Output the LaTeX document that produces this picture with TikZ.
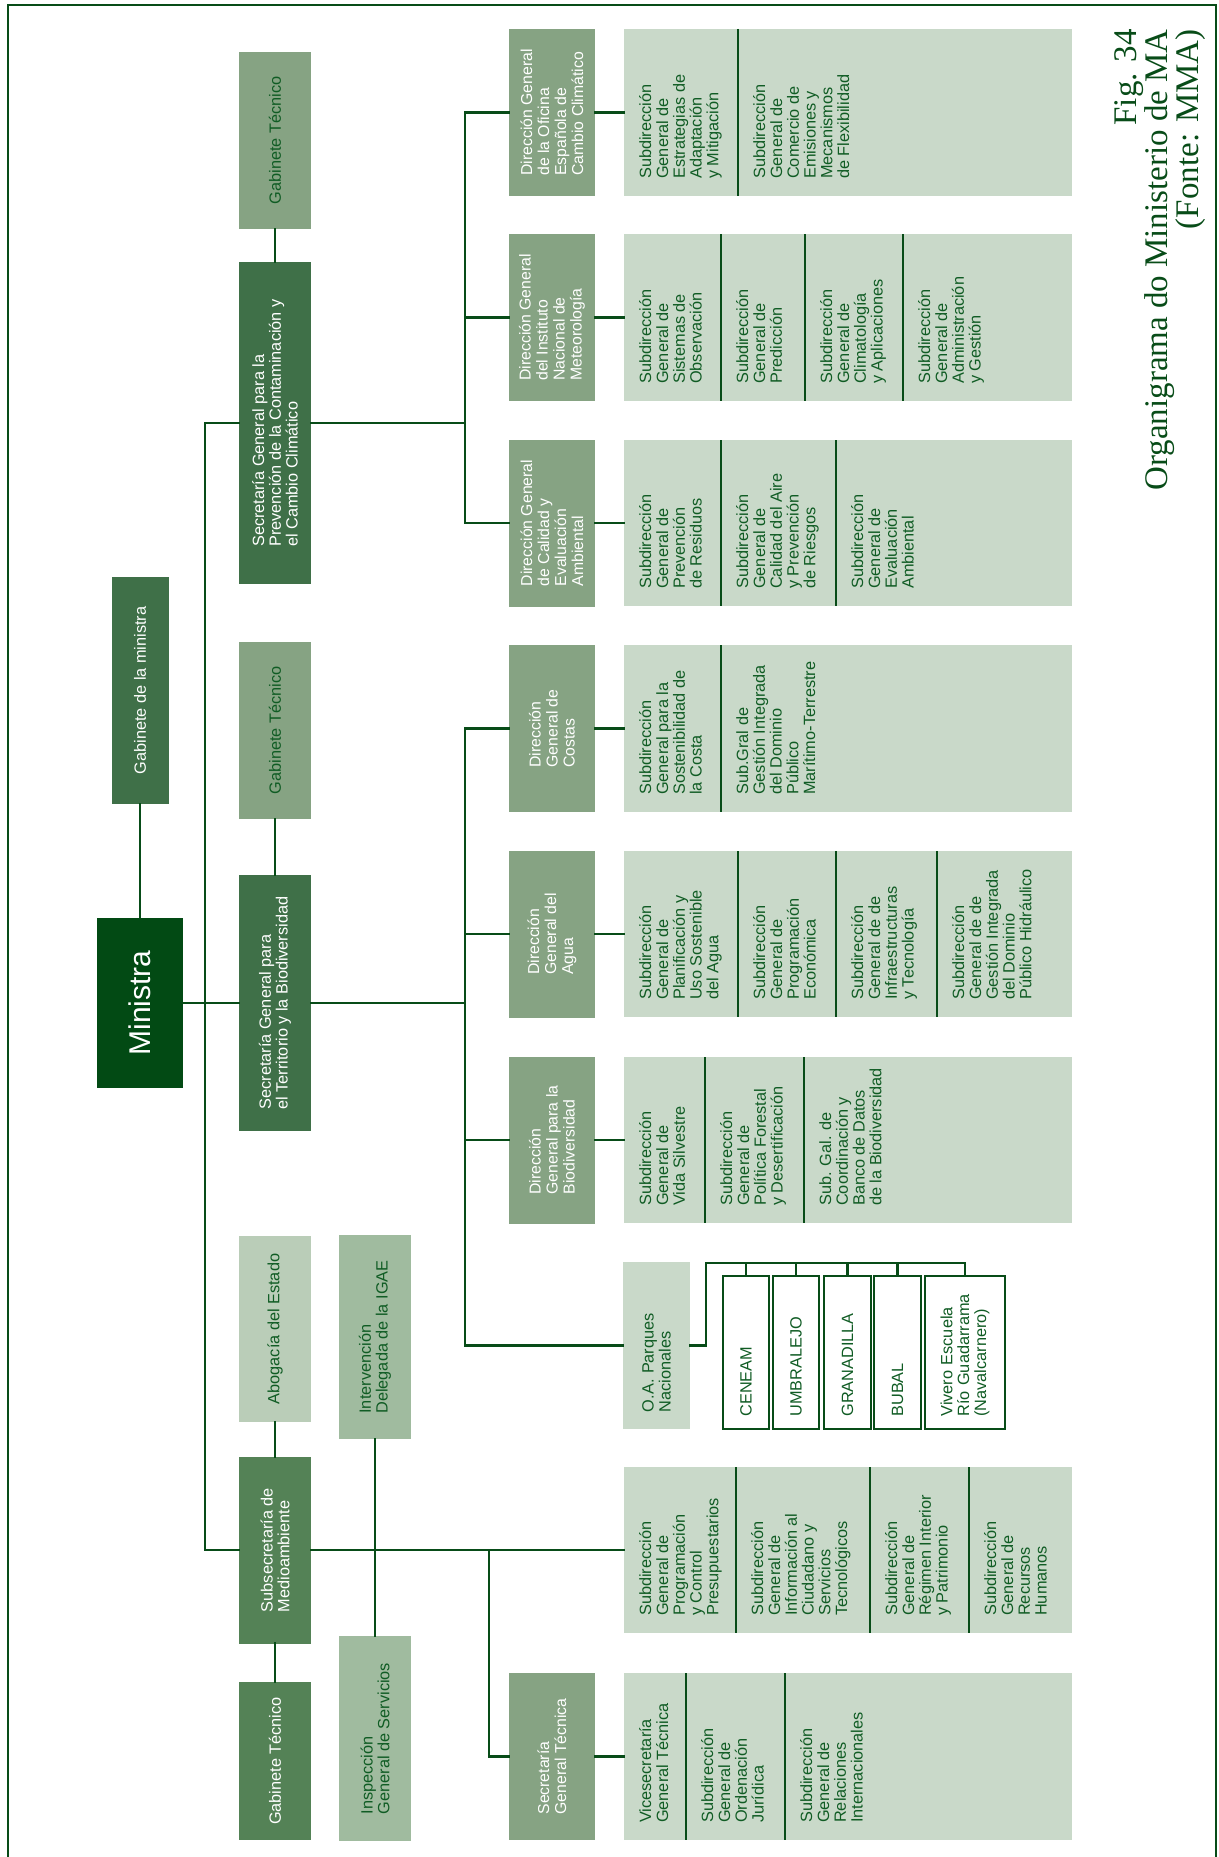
\documentclass[tikz,border=0pt]{standalone}
\usepackage{fontspec}
\setmainfont{Liberation Sans}
\newfontfamily\titlefont{Liberation Serif}
\usepackage{xcolor}
\definecolor{lineCol}{RGB}{8,76,24}
\definecolor{minCol}{RGB}{2,74,20}
\definecolor{secCol}{RGB}{63,112,72}
\definecolor{subsCol}{RGB}{84,130,86}
\definecolor{midCol}{RGB}{134,163,131}
\definecolor{aboCol}{RGB}{186,205,184}
\definecolor{ctrlCol}{RGB}{160,187,159}
\definecolor{cellCol}{RGB}{201,217,201}
\definecolor{txtCol}{RGB}{16,92,36}
\usepackage{tikz}
\usetikzlibrary{fit}
\newcommand{\boxfont}{\fontsize{16.3}{16.8}\selectfont}
\newcommand{\dirfont}{\fontsize{15.8}{17}\selectfont}
\tikzstyle{box} = [rectangle, rotate=90, inner sep=0pt, outer sep=0pt, align=left, font=\boxfont]
\tikzstyle{chief} = [box, fill=minCol, text=white, font=\fontsize{30}{32}\selectfont]
\tikzstyle{secr} = [box, fill=secCol, text=white]
\tikzstyle{subs} = [box, fill=subsCol, text=white]
\tikzstyle{gabmid} = [box, fill=midCol, text=txtCol]
\tikzstyle{dir} = [box, fill=midCol, text=white, font=\dirfont]
\tikzstyle{abo} = [box, fill=aboCol, text=txtCol]
\tikzstyle{ctrl} = [box, fill=ctrlCol, text=txtCol]
\tikzstyle{cellbox} = [box, fill=cellCol, text=txtCol, text width=133pt]
\tikzstyle{unit} = [box, draw=lineCol, line width=1.4pt, fill=white, text=txtCol, text width=128pt]
\tikzstyle{row} = [rectangle, fill=cellCol, inner sep=0pt, outer sep=0pt]
\tikzstyle{celltext} = [rotate=90, anchor=north west, align=left, inner sep=0pt, font=\boxfont, text=txtCol]
\tikzstyle{link} = [draw=lineCol, line width=2.7pt, line cap=rect]
\tikzstyle{divider} = [draw=lineCol, line width=1.4pt]
\tikzset{dims/.style 2 args={minimum width=#1pt, minimum height=#2pt}}

\begin{document}
\begin{tikzpicture}[x=1pt, y=-1pt]
\useasboundingbox (0,0) rectangle (1218,1857);
\draw[draw=lineCol, line width=2.2pt] (8,1870) -- (8,5) -- (1216,5) -- (1216,1870);

% top level
\node[chief, dims={170}{86}] (ministra) at (140,1003) {Ministra};
\node[secr, dims={227}{57}] (gabMin) at (140,690.5) {Gabinete de la ministra};

% secretarias
\node[gabmid, dims={177}{72}] (gabPrev) at (275,140.5) {Gabinete Técnico};
\node[secr, dims={322}{72}] (sgPrev) at (275,423) {Secretaría General para la\\Prevención de la Contaminación y\\el Cambio Climático};
\node[gabmid, dims={177}{72}] (gabTer) at (275,730.5) {Gabinete Técnico};
\node[secr, dims={256}{72}] (sgTer) at (275,1003) {Secretaría General para\\el Territorio y la Biodiversidad};
\node[abo, dims={186}{72}] (abog) at (275,1329) {Abogacía del Estado};
\node[subs, dims={187}{72}] (subsec) at (275,1550) {Subsecretaría de\\Medioambiente};
\node[subs, dims={158}{72}] (gabSub) at (275,1761) {Gabinete Técnico};
\node[ctrl, dims={204}{72}] (interv) at (375,1337) {Intervención\\Delegada de la IGAE};
\node[ctrl, dims={205}{72}] (inspec) at (375,1738.5) {Inspección\\General de Servicios};

% direcciones generales
\node[dir, dims={167}{86}] (dgOfi) at (552,112.5) {Dirección General\\de la Oficina\\Española de\\Cambio Climático};
\node[dir, dims={167}{86}] (dgMet) at (552,317.5) {Dirección General\\del Instituto\\Nacional de\\Meteorología};
\node[dir, dims={167}{86}] (dgCal) at (552,523) {Dirección General\\de Calidad y\\Evaluación\\Ambiental};
\node[dir, dims={167}{86}] (dgCos) at (552,728.5) {Dirección\\General de\\Costas};
\node[dir, dims={167}{86}] (dgAgua) at (552,934) {Dirección\\General del\\Agua};
\node[dir, dims={167}{86}] (dgBio) at (552,1140) {Dirección\\General para la\\Biodiversidad};
\node[dir, dims={167}{86}] (sgt) at (552,1756.5) {Secretaría\\General Técnica};

% parques nacionales
\node[cellbox, dims={167}{67}] (parques) at (656.5,1345.5) {O.A. Parques\\Nacionales};
\node[unit, dims={153}{46}] (ceneam) at (746,1352.5) {CENEAM};
\node[unit, dims={153}{46}] (umbra) at (796,1352.5) {UMBRALEJO};
\node[unit, dims={153}{47}] (grana) at (847.5,1352.5) {GRANADILLA};
\node[unit, dims={153}{47}] (bubal) at (897.5,1352.5) {BUBAL};
\node[unit, dims={153}{80}] (vivero) at (965,1352.5) {Vivero Escuela\\Río Guadarrama\\(Navalcarnero)};

% subdirecciones
\node[row, fit={(624,29) (1072,196)}] (rowOfi) {};
\node[row, fit={(624,234) (1072,401)}] (rowMet) {};
\node[row, fit={(624,440) (1072,606)}] (rowCal) {};
\node[row, fit={(624,645) (1072,812)}] (rowCos) {};
\node[row, fit={(624,851) (1072,1017)}] (rowAgua) {};
\node[row, fit={(624,1057) (1072,1223)}] (rowBio) {};
\node[row, fit={(624,1467) (1072,1633)}] (rowSub) {};
\node[row, fit={(624,1673) (1072,1840)}] (rowSGT) {};

\draw[divider] (738,29) -- (738,196);
\draw[divider] (721,234) -- (721,401); \draw[divider] (805,234) -- (805,401); \draw[divider] (903,234) -- (903,401);
\draw[divider] (721,440) -- (721,606); \draw[divider] (836,440) -- (836,606);
\draw[divider] (721,645) -- (721,812);
\draw[divider] (738,851) -- (738,1017); \draw[divider] (836,851) -- (836,1017); \draw[divider] (937,851) -- (937,1017);
\draw[divider] (705,1057) -- (705,1223); \draw[divider] (804,1057) -- (804,1223);
\draw[divider] (736,1467) -- (736,1633); \draw[divider] (870,1467) -- (870,1633); \draw[divider] (969,1467) -- (969,1633);
\draw[divider] (686,1673) -- (686,1840); \draw[divider] (785,1673) -- (785,1840);

\node[celltext] (sOfi1) at (639,179) {Subdirección\\General de\\Estrategias de\\Adaptación\\y Mitigación};
\node[celltext] (sOfi2) at (753,179) {Subdirección\\General de\\Comercio de\\Emisiones y\\Mecanismos\\de Flexibilidad};
\node[celltext] (sMet1) at (639,384) {Subdirección\\General de\\Sistemas de\\Observación};
\node[celltext] (sMet2) at (736,384) {Subdirección\\General de\\Predicción};
\node[celltext] (sMet3) at (820,384) {Subdirección\\General de\\Climatología\\y Aplicaciones};
\node[celltext] (sMet4) at (918,384) {Subdirección\\General de\\Administración\\y Gestión};
\node[celltext] (sCal1) at (639,589) {Subdirección\\General de\\Prevención\\de Residuos};
\node[celltext] (sCal2) at (736,589) {Subdirección\\General de\\Calidad del Aire\\y Prevención\\de Riesgos};
\node[celltext] (sCal3) at (851,589) {Subdirección\\General de\\Evaluación\\Ambiental};
\node[celltext] (sCos1) at (639,795) {Subdirección\\General para la\\Sostenibilidad de\\la Costa};
\node[celltext] (sCos2) at (736,795) {Sub.Gral de\\Gestión Integrada\\del Dominio\\Público\\Marítimo-Terrestre};
\node[celltext] (sAgua1) at (639,1000) {Subdirección\\General de\\Planificación y\\Uso Sostenible\\del Agua};
\node[celltext] (sAgua2) at (753,1000) {Subdirección\\General de\\Programación\\Económica};
\node[celltext] (sAgua3) at (851,1000) {Subdirección\\General de de\\Infraestructuras\\y Tecnología};
\node[celltext] (sAgua4) at (952,1000) {Subdirección\\General de de\\Gestión Integrada\\del Dominio\\Público Hidráulico};
\node[celltext] (sBio1) at (639,1206) {Subdirección\\General de\\Vida Silvestre};
\node[celltext] (sBio2) at (720,1206) {Subdirección\\General de\\Política Forestal\\y Desertificación};
\node[celltext] (sBio3) at (819,1206) {Sub. Gal. de\\Coordinación y\\Banco de Datos\\de la Biodiversidad};
\node[celltext] (sSub1) at (639,1616) {Subdirección\\General de\\Programación\\y Control\\Presupuestarios};
\node[celltext] (sSub2) at (751,1616) {Subdirección\\General de\\Información al\\Ciudadano y\\Servicios\\Tecnológicos};
\node[celltext] (sSub3) at (885,1616) {Subdirección\\General de\\Régimen Interior\\y Patrimonio};
\node[celltext] (sSub4) at (984,1616) {Subdirección\\General de\\Recursos\\Humanos};
\node[celltext] (sSGT1) at (639,1823) {Vicesecretaría\\General Técnica};
\node[celltext] (sSGT2) at (701,1823) {Subdirección\\General de\\Ordenación\\Jurídica};
\node[celltext] (sSGT3) at (800,1823) {Subdirección\\General de\\Relaciones\\Internacionales};

% caption
\node[rotate=90, anchor=north east, align=right, inner sep=0pt, text=lineCol,
      font=\titlefont\fontsize{33}{29.5}\selectfont] (caption) at (1114,29)
      {Fig. 34\\Organigrama do Ministerio de MA\\(Fonte: MMA)};

% connectors
\coordinate (busL) at (205,1003);
\coordinate (busP) at (465,423);
\coordinate (busT) at (465,1003);
\coordinate (busN) at (706,1263);
\coordinate (brS) at (489,1550);

\draw[link] (gabMin) -- (ministra);
\draw[link] (ministra) -- (sgTer);
\draw[link] (gabPrev) -- (sgPrev);
\draw[link] (gabTer) -- (sgTer);
\draw[link] (abog) -- (subsec);
\draw[link] (subsec) -- (gabSub);
\draw[link] (interv) -- (inspec);
\draw[link] (sgPrev) -| (busL) |- (subsec);

\draw[link] (sgPrev) -- (busP);
\draw[link] (dgOfi) -| (busP) |- (dgCal);
\draw[link] (busP) |- (dgMet);
\draw[link] (dgOfi) -- (rowOfi);
\draw[link] (dgMet) -- (rowMet);
\draw[link] (dgCal) -- (rowCal);

\draw[link] (sgTer) -- (busT);
\draw[link] (dgCos) -| (busT) |- (parques);
\draw[link] (busT) |- (dgAgua);
\draw[link] (busT) |- (dgBio);
\draw[link] (dgCos) -- (rowCos);
\draw[link] (dgAgua) -- (rowAgua);
\draw[link] (dgBio) -- (rowBio);

\draw[link] (parques) -| (busN) -| (vivero);
\draw[link] (busN -| ceneam) -- (ceneam);
\draw[link] (busN -| umbra) -- (umbra);
\draw[link] (busN -| grana) -- (grana);
\draw[link] (busN -| bubal) -- (bubal);

\draw[link] (subsec) -- (rowSub);
\draw[link] (brS) |- (sgt);
\draw[link] (sgt) -- (rowSGT);
\end{tikzpicture}
\end{document}
